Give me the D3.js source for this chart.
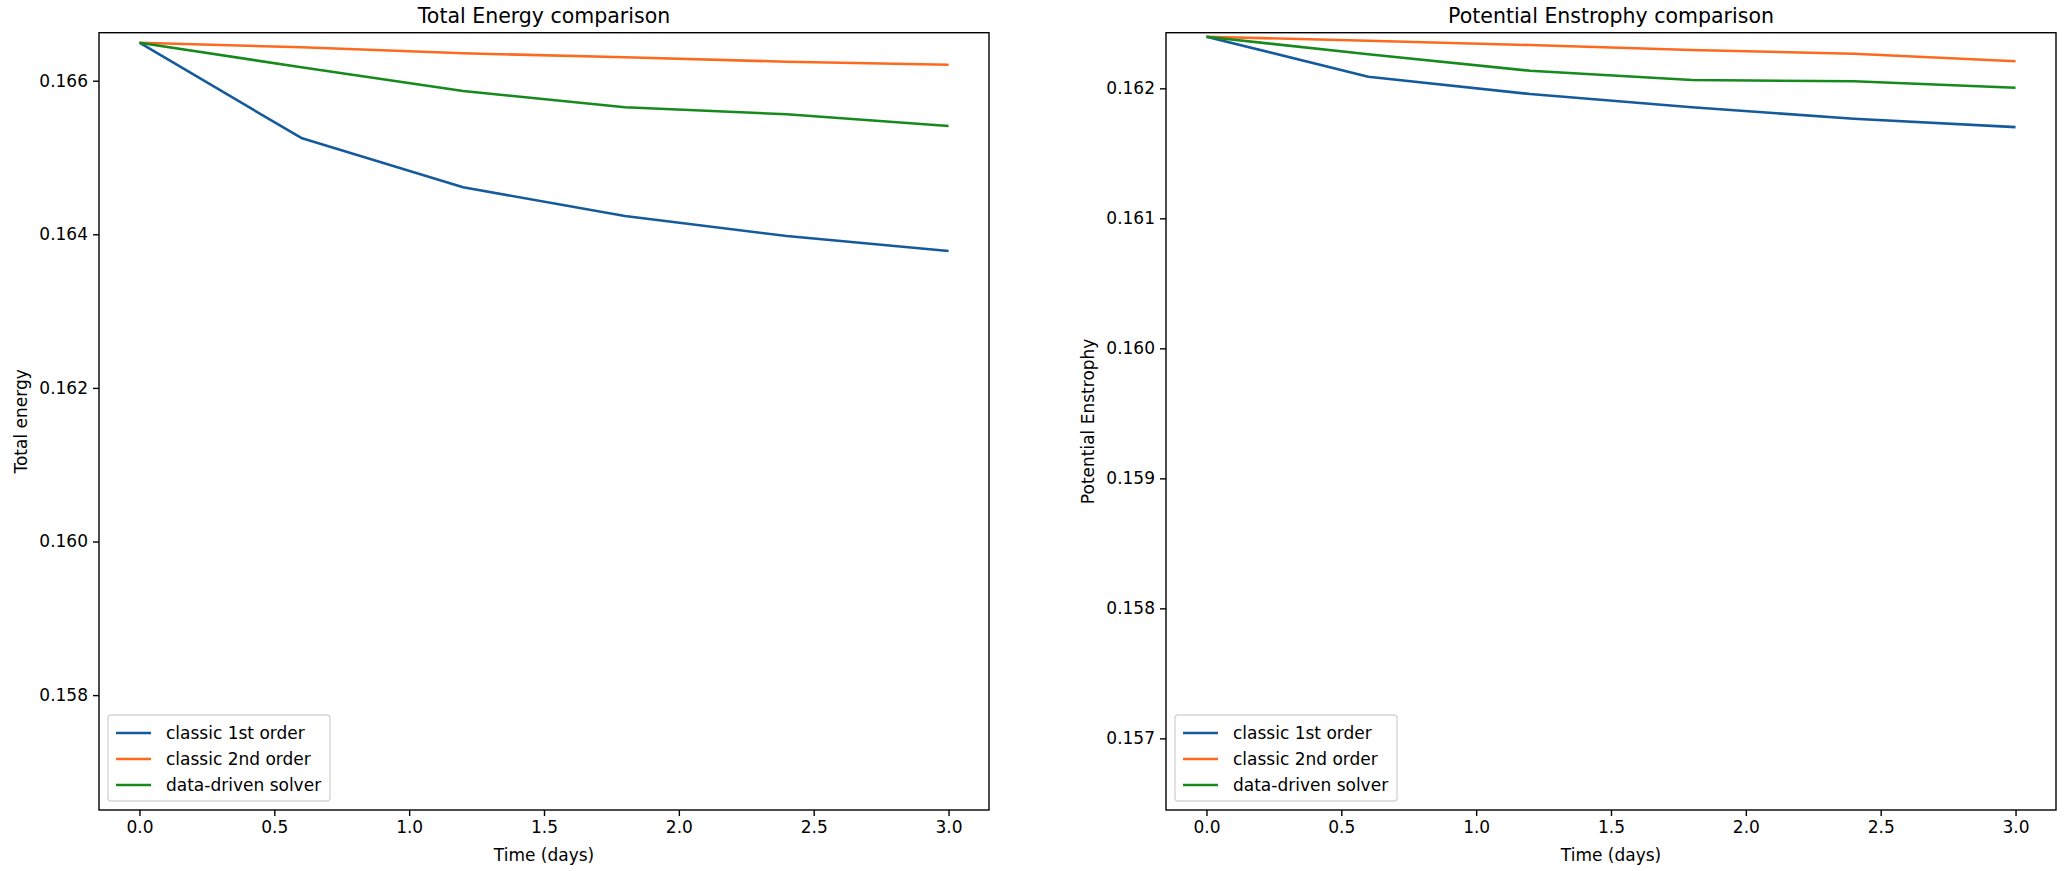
<!DOCTYPE html>
<html>
<head>
<meta charset="utf-8">
<script src="https://cdn.jsdelivr.net/npm/d3@7"></script>
<style>
  html, body { margin: 0; padding: 0; background: #fff; }
  svg { display: block; font-family: "DejaVu Sans", sans-serif; }
</style>
</head>
<body>
<svg id="chart" width="2070" height="871"></svg>
<script>
// ---- data ----
const times = [0.0, 0.6, 1.2, 1.8, 2.4, 3.0];
const seriesNames = ["classic 1st order", "classic 2nd order", "data-driven solver"];
const seriesColors = ["#155b9b", "#fd6a1e", "#168a1c"];

const energyFirst  = [0.166495, 0.165254, 0.164612, 0.164238, 0.163978, 0.163783];
const energySecond = [0.166495, 0.166435, 0.166357, 0.166305, 0.166247, 0.166208];
const energyData   = [0.166495, 0.166174, 0.165866, 0.165654, 0.165563, 0.165410];

const enstFirst  = [0.162397, 0.162089, 0.161956, 0.161854, 0.161766, 0.161702];
const enstSecond = [0.162397, 0.162366, 0.162333, 0.162295, 0.162266, 0.162208];
const enstData   = [0.162397, 0.162262, 0.162135, 0.162064, 0.162054, 0.162005];

const xTicks = [0.0, 0.5, 1.0, 1.5, 2.0, 2.5, 3.0];
const energyTicks = [0.158, 0.160, 0.162, 0.164, 0.166];
const enstTicks = [0.157, 0.158, 0.159, 0.160, 0.161, 0.162];

(function () {
const panels = [
  { title: "Total Energy comparison", ylabel: "Total energy",
    series: [energyFirst, energySecond, energyData], ticks: energyTicks,
    ydomain: [0.156504, 0.166625], left: 99, right: 989, ylabelX: 21 },
  { title: "Potential Enstrophy comparison", ylabel: "Potential Enstrophy",
    series: [enstFirst, enstSecond, enstData], ticks: enstTicks,
    ydomain: [0.156449, 0.162428], left: 1166, right: 2056, ylabelX: 1088 }
];

const plotTop = 32.7, plotBottom = 810;
const svg = d3.select("#chart");
const tickFont = 17;

panels.forEach(p => {
  const x = d3.scaleLinear().domain([-0.15, 3.15]).range([p.left, p.right]);
  const y = d3.scaleLinear().domain(p.ydomain).range([plotBottom, plotTop]);
  const g = svg.append("g");

  // lines
  const line = d3.line().x((d, i) => x(times[i])).y(d => y(d));
  p.series.forEach((s, k) => {
    g.append("path").datum(s).attr("d", line)
      .attr("fill", "none").attr("stroke", seriesColors[k])
      .attr("stroke-width", 2.6).attr("stroke-linejoin", "round").attr("stroke-linecap", "butt");
  });

  // axes
  const xAxis = d3.axisBottom(x).tickValues(xTicks).tickFormat(d3.format(".1f"))
    .tickSize(6).tickPadding(5);
  const gx = g.append("g").attr("transform", `translate(0,${plotBottom})`).call(xAxis);
  const yAxis = d3.axisLeft(y).tickValues(p.ticks).tickFormat(d3.format(".3f"))
    .tickSize(6).tickPadding(5);
  const gy = g.append("g").attr("transform", `translate(${p.left},0)`).call(yAxis);
  [gx, gy].forEach(a => {
    a.select(".domain").remove();
    a.selectAll(".tick line").attr("stroke", "#000").attr("stroke-width", 1.4);
    a.selectAll(".tick text").attr("fill", "#000")
      .style("font-size", tickFont + "px").style("font-family", "DejaVu Sans");
  });

  // frame
  g.append("rect").attr("x", p.left).attr("y", plotTop)
    .attr("width", p.right - p.left).attr("height", plotBottom - plotTop)
    .attr("fill", "none").attr("stroke", "#000").attr("stroke-width", 1.4);

  // title
  g.append("text").attr("x", (p.left + p.right) / 2).attr("y", 23)
    .attr("text-anchor", "middle").style("font-size", "20.5px").text(p.title);
  // x label
  g.append("text").attr("x", (p.left + p.right) / 2).attr("y", 861)
    .attr("text-anchor", "middle").style("font-size", tickFont + "px").text("Time (days)");
  // y label
  g.append("text").attr("transform", `translate(${p.ylabelX},${(plotTop + plotBottom) / 2}) rotate(-90)`)
    .attr("text-anchor", "middle").attr("dominant-baseline", "central")
    .style("font-size", tickFont + "px").text(p.ylabel);

  // legend
  const lx = p.left + 9, lyBottom = plotBottom - 9;
  const rowH = 26, pad = 7, boxW = 222;
  const boxH = pad * 2 + rowH * 3 - 6;
  const ly = lyBottom - boxH;
  const lg = g.append("g");
  lg.append("rect").attr("x", lx).attr("y", ly).attr("width", boxW).attr("height", boxH)
    .attr("rx", 3).attr("fill", "#fff").attr("fill-opacity", 0.8)
    .attr("stroke", "#d6d6d6").attr("stroke-width", 1.4);
  seriesNames.forEach((name, k) => {
    const cy = ly + pad + 11 + k * rowH;
    lg.append("line").attr("x1", lx + 8).attr("x2", lx + 43).attr("y1", cy).attr("y2", cy)
      .attr("stroke", seriesColors[k]).attr("stroke-width", 2.6);
    lg.append("text").attr("x", lx + 58).attr("y", cy).attr("dominant-baseline", "central")
      .style("font-size", tickFont + "px").text(name);
  });
});
})();
</script>
</body>
</html>
